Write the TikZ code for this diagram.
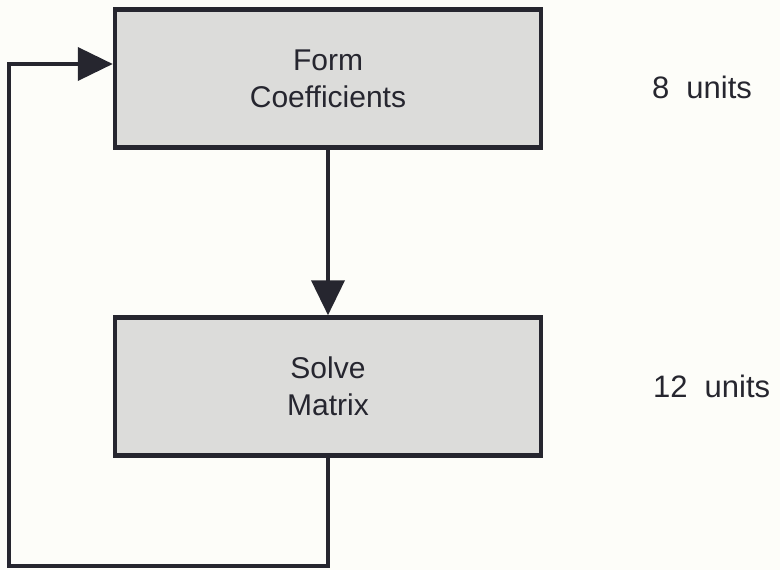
\documentclass[tikz,border=0pt]{standalone}
\usepackage{fontspec}
\setmainfont{Liberation Sans}
\usetikzlibrary{arrows.meta}
\definecolor{ink}{HTML}{26262F}
\definecolor{shade}{HTML}{DCDCDA}
\definecolor{paper}{HTML}{FDFDF9}
\begin{document}
\begin{tikzpicture}[x=1pt,y=-1pt,
  procbox/.style={draw=ink, line width=4.5pt, fill=shade, minimum width=426pt,
    minimum height=138pt, inner sep=0pt, align=center, text=ink,
    font=\fontsize{30}{37}\selectfont},
  conn/.style={draw=ink, line width=4pt},
  tip/.style={-{Triangle[length=35pt,width=33pt]}},
  unitlabel/.style={text=ink, font=\fontsize{31}{37}\selectfont, inner sep=0pt}]
  \fill[paper] (0,0) rectangle (780,570);
  \useasboundingbox (0,0) rectangle (780,570);
  \node[procbox] (form) at (328,78.5) {Form\\Coefficients};
  \node[procbox] (solve) at (328,386.5) {Solve\\Matrix};
  \node[unitlabel, anchor=west] (u8) at (652,87) {8\hspace{0.55em}units};
  \node[unitlabel, anchor=west] (u12) at (653,386) {12\hspace{0.55em}units};
  \draw[conn,tip] (form.south) -- (solve.north);
  \coordinate (corner) at (9,566);
  \coordinate (entry) at (form.west |- 0,64);
  \draw[conn,tip] (solve.south) |- (corner) |- (entry);
\end{tikzpicture}
\end{document}
